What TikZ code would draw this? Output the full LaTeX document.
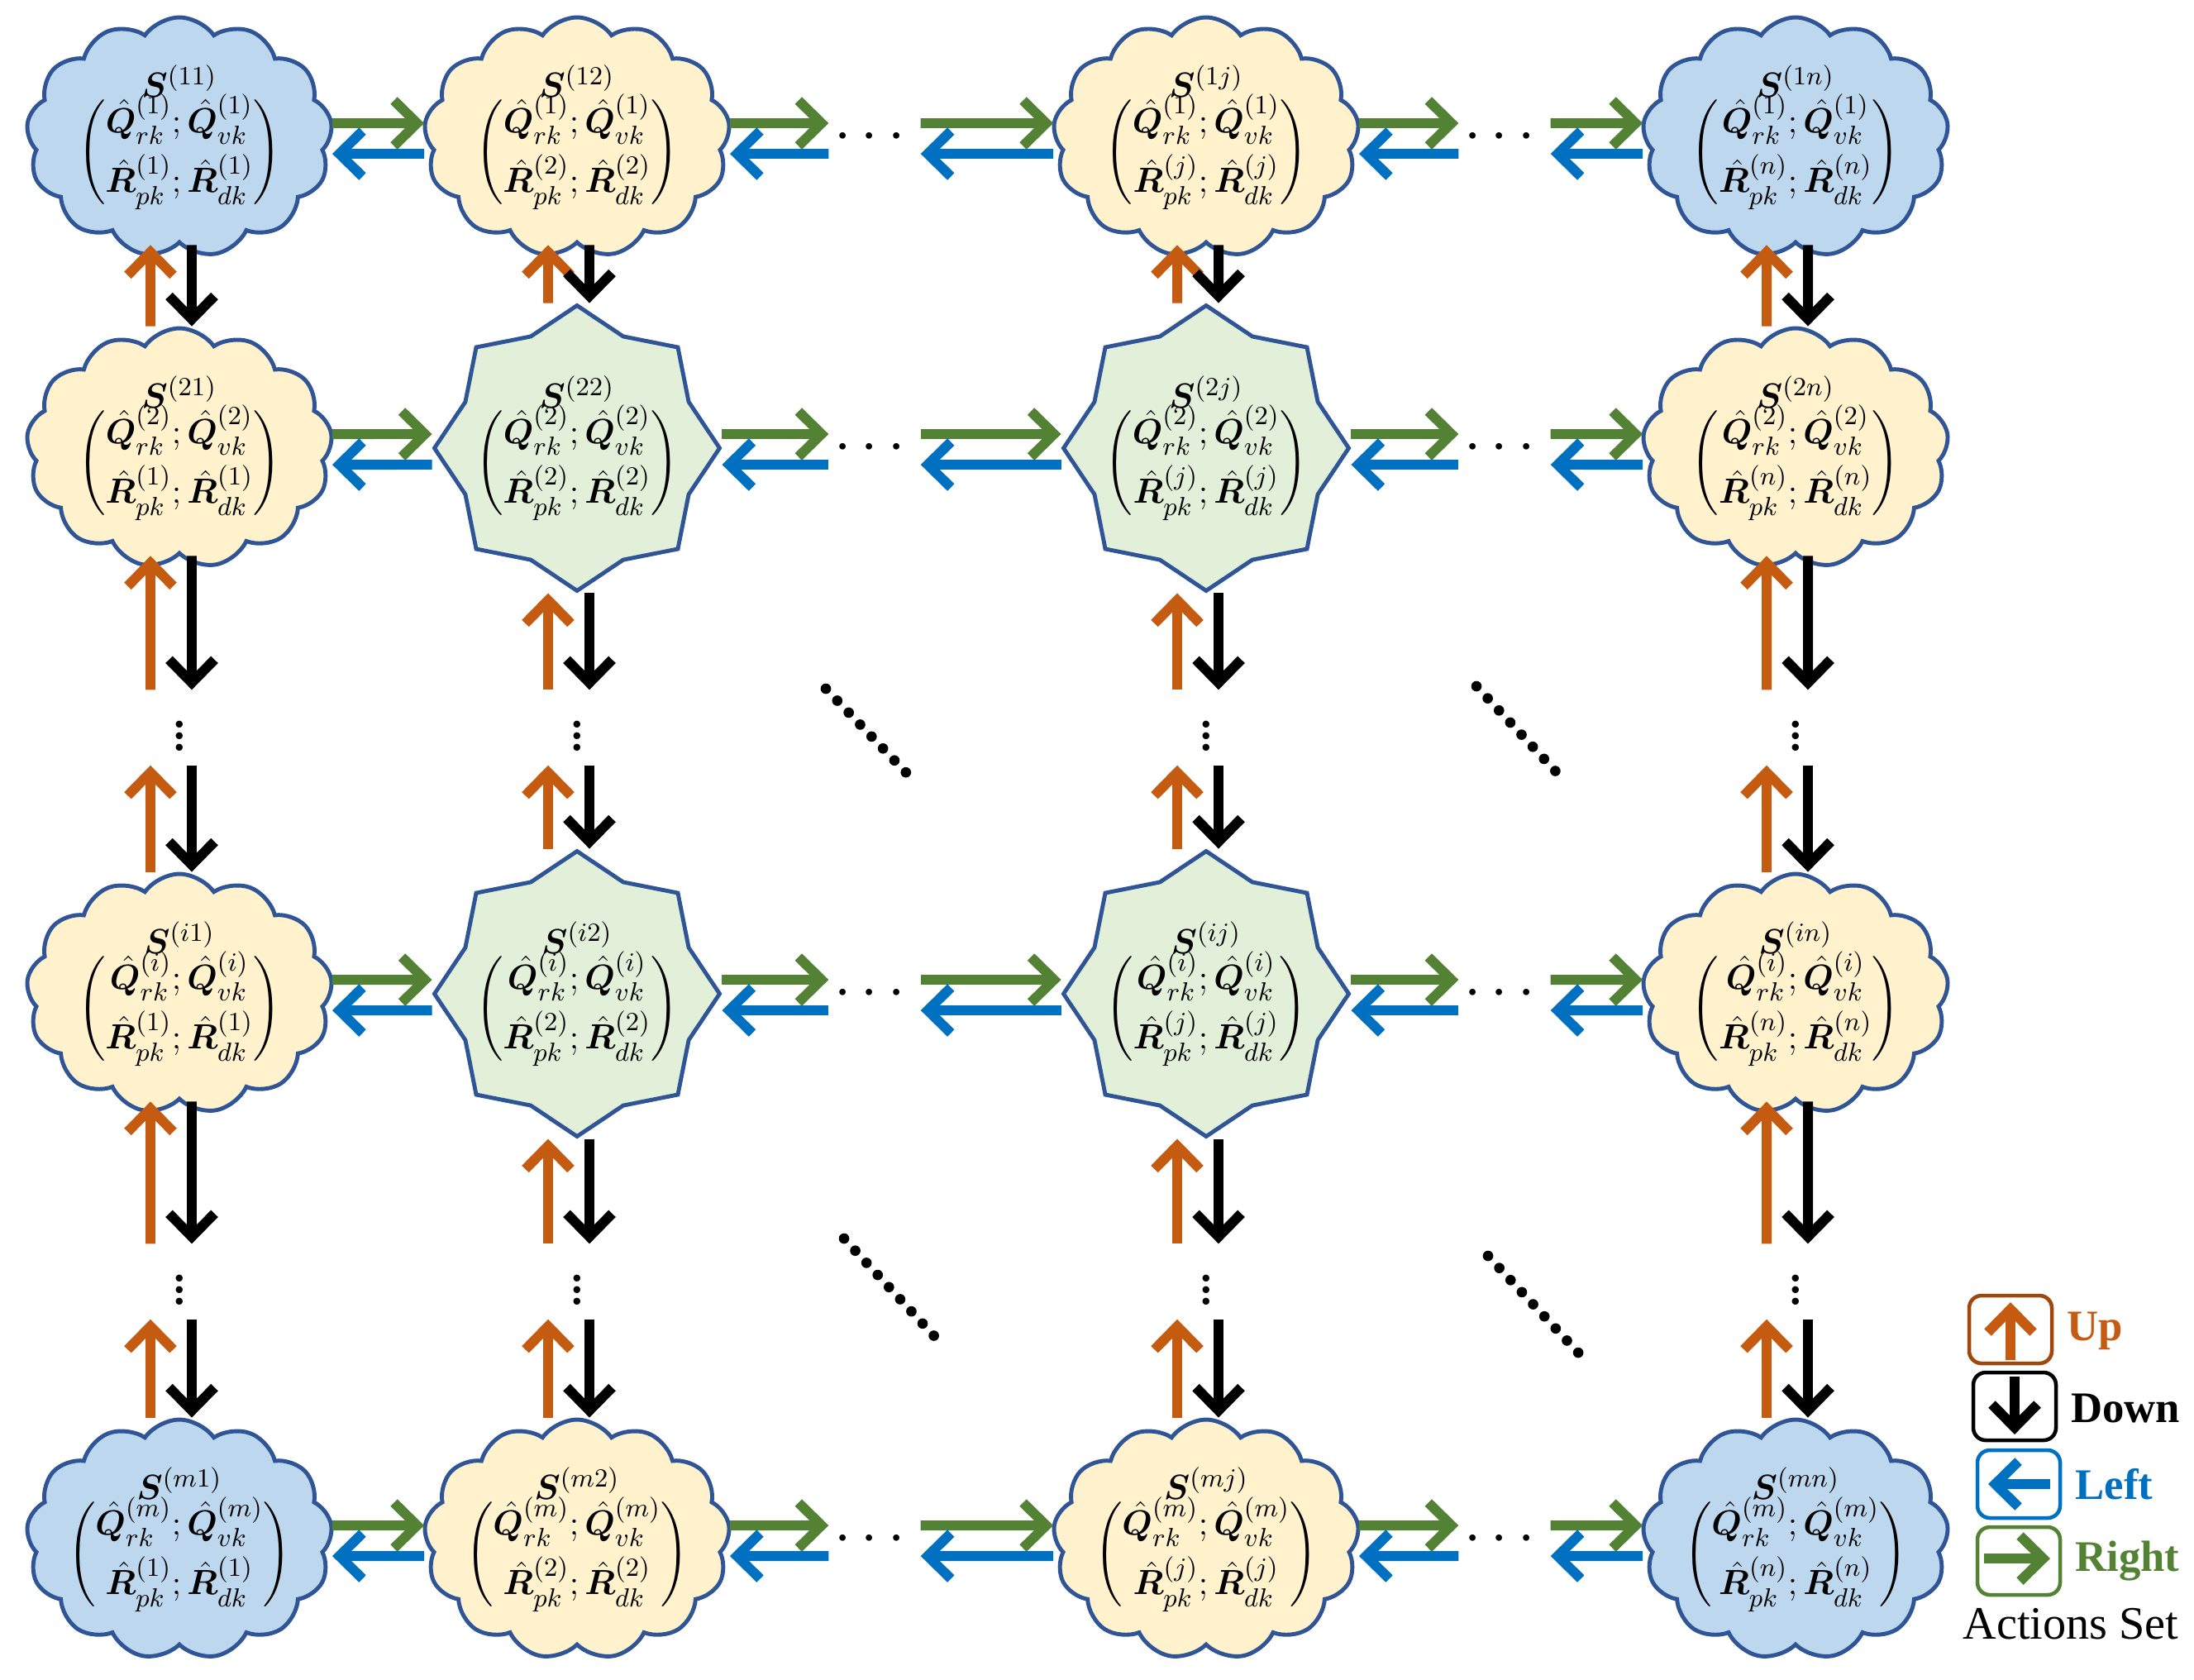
\documentclass[tikz,border=0pt]{standalone}
\usepackage{amsmath,bm}
\usepackage{fontspec}
\setmainfont{Liberation Serif}
\usetikzlibrary{shapes.symbols,shapes.geometric,arrows.meta,calc}
\definecolor{cblue}{HTML}{BDD7EE}
\definecolor{cyel}{HTML}{FFF2CC}
\definecolor{cgreen}{HTML}{E2F0D9}
\definecolor{edge}{HTML}{2F5597}
\definecolor{aor}{HTML}{C55A11}
\definecolor{agr}{HTML}{548235}
\definecolor{abl}{HTML}{0070C0}
\tikzset{
 st/.style={draw=edge, line width=1.4pt, inner sep=0pt,
   label={[font=\fontsize{13}{15}\selectfont, align=center]center:#1}},
 bc/.style={st={#1}, cloud, cloud puffs=13, cloud puff arc=110, aspect=1.27, minimum width=3.7cm, minimum height=2.9cm, fill=cblue},
 yc/.style={bc={#1}, fill=cyel},
 gs/.style={st={#1}, star, star points=8, star point ratio=1.18, minimum size=3.45cm, fill=cgreen},
 ar/.style={line width=3.4pt, -{Straight Barb[length=0.28cm,width=0.55cm,line width=3.4pt]}},
 up/.style={ar, aor}, dn/.style={ar, black}, lf/.style={ar, abl}, rt/.style={ar, agr},
 hd/.style={font=\fontsize{22}{22}\selectfont, inner sep=0pt, minimum width=1.1cm},
 vd/.style={font=\fontsize{20}{20}\selectfont, inner sep=0pt, minimum height=0.9cm, minimum width=0.2cm},
 dd/.style={line width=3.6pt, line cap=round, dash pattern=on 0pt off 0.2cm},
 lb/.style={draw, rounded corners=0.15cm, line width=1.3pt, minimum width=1cm, minimum height=0.82cm},
 ll/.style={font=\fontsize{15}{15}\selectfont\bfseries, anchor=west},
}
\newcommand{\stt}[3]{$\bm{S}^{(#1)}$\\[-2pt]$\begin{pmatrix}\bm{\hat{Q}}^{(#2)}_{rk};\bm{\hat{Q}}^{(#2)}_{vk}\\[3pt] \bm{\hat{R}}^{(#3)}_{pk};\bm{\hat{R}}^{(#3)}_{dk}\end{pmatrix}$}
\begin{document}
\begin{tikzpicture}
\useasboundingbox (0,0) rectangle (26.54,-20.31);
% nodes
\node[bc={\stt{11}{1}{1}}] (a11) at (2.17,-1.66) {};
\node[yc={\stt{12}{1}{2}}] (a12) at (6.98,-1.66) {};
\node[yc={\stt{1j}{1}{j}}] (a1j) at (14.59,-1.66) {};
\node[bc={\stt{1n}{1}{n}}] (a1n) at (21.72,-1.66) {};
\node[yc={\stt{21}{2}{1}}] (a21) at (2.17,-5.42) {};
\node[gs={\stt{22}{2}{2}}] (a22) at (6.98,-5.42) {};
\node[gs={\stt{2j}{2}{j}}] (a2j) at (14.59,-5.42) {};
\node[yc={\stt{2n}{2}{n}}] (a2n) at (21.72,-5.42) {};
\node[yc={\stt{i1}{i}{1}}] (ai1) at (2.17,-12.02) {};
\node[gs={\stt{i2}{i}{2}}] (ai2) at (6.98,-12.02) {};
\node[gs={\stt{ij}{i}{j}}] (aij) at (14.59,-12.02) {};
\node[yc={\stt{in}{i}{n}}] (ain) at (21.72,-12.02) {};
\node[bc={\stt{m1}{m}{1}}] (am1) at (2.17,-18.62) {};
\node[yc={\stt{m2}{m}{2}}] (am2) at (6.98,-18.62) {};
\node[yc={\stt{mj}{m}{j}}] (amj) at (14.59,-18.62) {};
\node[bc={\stt{mn}{m}{n}}] (amn) at (21.72,-18.62) {};
% horizontal dots nodes
\foreach \r/\y in {1/-1.66,2/-5.42,i/-12.02,m/-18.62}{
 \node[hd] (h\r a) at (10.58,\y) {$\cdots$};
 \node[hd] (h\r b) at (18.2,\y) {$\cdots$};
}
% vertical dots nodes
\foreach \c/\x in {1/2.17,2/6.98,j/14.59,n/21.72}{
 \node[vd] (v\c a) at (\x,-8.8) {$\vdots$};
 \node[vd] (v\c b) at (\x,-15.5) {$\vdots$};
}
% horizontal arrows
\foreach \r in {1,2,i,m}{
 \draw[rt] ([yshift=0.17cm]a\r1.east) -- ([yshift=0.17cm]a\r2.west);
 \draw[lf] ([yshift=-0.2cm]a\r2.west) -- ([yshift=-0.2cm]a\r1.east);
 \draw[rt] ([yshift=0.17cm]a\r2.east) -- ([yshift=0.17cm]h\r a.west);
 \draw[lf] ([yshift=-0.2cm]h\r a.west) -- ([yshift=-0.2cm]a\r2.east);
 \draw[rt] ([yshift=0.17cm]h\r a.east) -- ([yshift=0.17cm]a\r j.west);
 \draw[lf] ([yshift=-0.2cm]a\r j.west) -- ([yshift=-0.2cm]h\r a.east);
 \draw[rt] ([yshift=0.17cm]a\r j.east) -- ([yshift=0.17cm]h\r b.west);
 \draw[lf] ([yshift=-0.2cm]h\r b.west) -- ([yshift=-0.2cm]a\r j.east);
 \draw[rt] ([yshift=0.17cm]h\r b.east) -- ([yshift=0.17cm]a\r n.west);
 \draw[lf] ([yshift=-0.2cm]a\r n.west) -- ([yshift=-0.2cm]h\r b.east);
}
% vertical arrows
\foreach \c in {1,2,j,n}{
 \draw[up] ([xshift=-0.35cm]a2\c.north) -- ([xshift=-0.35cm]a1\c.south);
 \draw[dn] ([xshift=0.15cm]a1\c.south) -- ([xshift=0.15cm]a2\c.north);
 \draw[up] ([xshift=-0.35cm]v\c a.north) -- ([xshift=-0.35cm]a2\c.south);
 \draw[dn] ([xshift=0.15cm]a2\c.south) -- ([xshift=0.15cm]v\c a.north);
 \draw[up] ([xshift=-0.35cm]ai\c.north) -- ([xshift=-0.35cm]v\c a.south);
 \draw[dn] ([xshift=0.15cm]v\c a.south) -- ([xshift=0.15cm]ai\c.north);
 \draw[up] ([xshift=-0.35cm]v\c b.north) -- ([xshift=-0.35cm]ai\c.south);
 \draw[dn] ([xshift=0.15cm]ai\c.south) -- ([xshift=0.15cm]v\c b.north);
 \draw[up] ([xshift=-0.35cm]am\c.north) -- ([xshift=-0.35cm]v\c b.south);
 \draw[dn] ([xshift=0.15cm]v\c b.south) -- ([xshift=0.15cm]am\c.north);
}
% diagonal dots
\draw[dd] (9.99,-8.33) -- (11.09,-9.48);
\draw[dd] (17.86,-8.30) -- (18.93,-9.45);
\draw[dd] (10.21,-14.98) -- (11.31,-16.17);
\draw[dd] (18.0,-15.19) -- (19.1,-16.37);
% legend
\node[lb, draw=aor!80!black] (lu) at (24.32,-16.08) {};
\node[lb, draw=black] (ld) at (24.37,-17.01) {};
\node[lb, draw=abl] (ll) at (24.42,-17.95) {};
\node[lb, draw=agr] (lr) at (24.42,-18.88) {};
\coordinate (lu1) at (24.32,-16.45); \coordinate (lu2) at (24.32,-15.75);
\draw[up] (lu1) -- (lu2);
\coordinate (ld1) at (24.37,-16.65); \coordinate (ld2) at (24.37,-17.35);
\draw[dn] (ld1) -- (ld2);
\coordinate (ll1) at (24.8,-17.95); \coordinate (ll2) at (24.05,-17.95);
\draw[lf] (ll1) -- (ll2);
\coordinate (lr1) at (24.0,-18.85); \coordinate (lr2) at (24.8,-18.85);
\draw[rt] (lr1) -- (lr2);
\node[ll, aor] (tu) at (24.88,-16.1) {Up};
\node[ll, black] (td) at (24.93,-17.03) {Down};
\node[ll, abl] (tl) at (24.98,-17.95) {Left};
\node[ll, agr] (tr) at (24.98,-18.88) {Right};
\node[font=\fontsize{16}{16}\selectfont] (as) at (25.05,-19.64) {Actions Set};
\end{tikzpicture}
\end{document}
